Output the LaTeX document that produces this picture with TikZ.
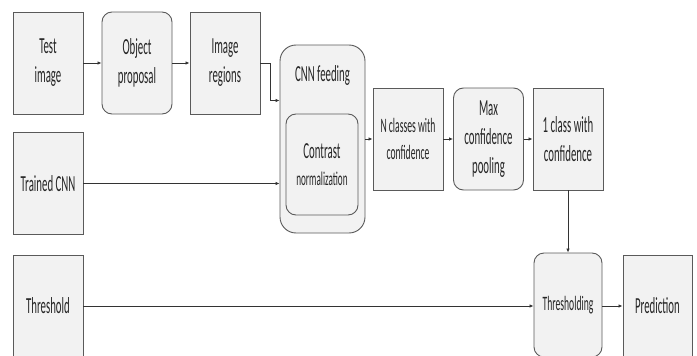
\documentclass[tikz,border=0pt]{standalone}
\usepackage{fontspec}
\setmainfont{Carlito}[FakeStretch=0.47]
\usetikzlibrary{arrows.meta,positioning}
\definecolor{boxfill}{HTML}{F2F2F2}
\definecolor{boxline}{HTML}{5A5A5A}
\newcommand{\bigtxt}{\fontsize{23}{29}\selectfont}
\newcommand{\smalltxt}{\fontsize{20.5}{27}\selectfont}
\tikzset{
  stage/.style={draw=boxline, fill=boxfill, line width=0.9pt, minimum width=70pt,
    minimum height=102pt, align=center, inner sep=1pt, text=black!85, font=\bigtxt},
  roundstage/.style={stage, rounded corners=10pt},
  flow/.style={-{Latex[length=4pt,width=3.5pt]}, draw=black!80, line width=0.8pt}
}
\begin{document}
\begin{tikzpicture}[x=1pt,y=-1pt]
    \useasboundingbox (0,0) rectangle (697,356);
    % Top row
    \node[stage] (test) at (48,63) {Test\\image};
    \node[roundstage] (objprop) at (137,63) {Object\\proposal};
    \node[stage] (regions) at (225,63) {Image\\regions};

    % CNN block with nested normalization
    \node[roundstage, rounded corners=16pt, minimum width=85pt, minimum height=188pt] (cnn) at (322.5,139) {};
    \node[font=\bigtxt, text=black!85, below=37pt of cnn.north, anchor=base] (cnnlabel) {CNN feeding};
    \node[roundstage, minimum width=72pt, minimum height=101pt] (contrast) at (322,164.5)
        {Contrast\\[-2pt]{\fontsize{19.5}{26}\selectfont normalization}};

    % Inputs on the left
    \node[stage] (trained) at (48,183.5) {Trained CNN};
    \node[stage] (threshold) at (48,306) {Threshold};

    % Middle row
    \node[stage, font=\smalltxt] (nclass) at (408,139) {N classes with\\confidence};
    \node[roundstage] (maxpool) at (488.5,139) {Max\\confidence\\pooling};
    \node[stage] (oneclass) at (568,139) {1 class with\\confidence};

    % Bottom row
    \node[roundstage, minimum width=68pt, minimum height=104pt, font=\smalltxt] (thresholding) at (568,305) {Thresholding};
    \node[stage, minimum width=69pt] (prediction) at (657.5,306) {Prediction};

    % Connectors
    \draw[flow] (test) -- (objprop);
    \draw[flow] (objprop) -- (regions);
    \draw[flow] (regions.east) -- ++(10,0) |- ([yshift=38.5pt]cnn.west);
    \draw[flow] (trained.east) -- (cnn.west |- trained.east);
    \draw[flow] (cnn.east |- nclass.west) -- (nclass.west);
    \draw[flow] (nclass) -- (maxpool);
    \draw[flow] (maxpool) -- (oneclass);
    \draw[flow] (oneclass) -- (thresholding);
    \draw[flow] (threshold.east) -- (thresholding.west |- threshold.east);
    \draw[flow] (thresholding.east |- prediction.west) -- (prediction.west);
\end{tikzpicture}
\end{document}
